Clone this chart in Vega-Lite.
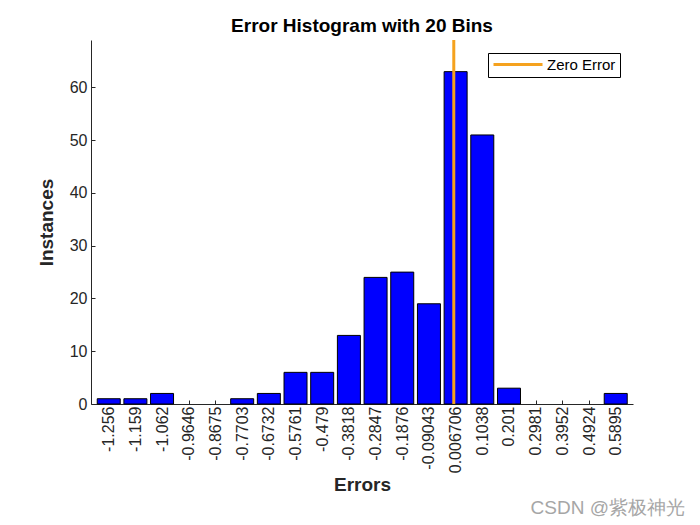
{
  "$schema": "https://vega.github.io/schema/vega-lite/v6.json",
  "background": "white",
  "padding": {"left": 37, "top": 16, "right": 5, "bottom": 5},
  "config": {
    "font": "Liberation Sans",
    "view": {"stroke": null},
    "concat": {"spacing": 0},
    "axis": {"labelOverlap": false}
  },
  "title": {
    "text": "CSDN @紫极神光",
    "orient": "bottom",
    "anchor": "end",
    "fontSize": 19,
    "fontWeight": "normal",
    "color": "#a6a6a6",
    "offset": 4,
    "dx": 52
  },
  "vconcat": [
    {
      "title": {
        "text": "Error Histogram with 20 Bins",
        "fontSize": 19,
        "fontWeight": "bold",
        "color": "black",
        "anchor": "middle",
        "offset": 3
      },
      "width": 542,
      "height": 364,
      "layer": [
        {
          "data": {
            "values": [
              {"center": -1.256, "count": 1},
              {"center": -1.159, "count": 1},
              {"center": -1.062, "count": 2},
              {"center": -0.9646, "count": 0},
              {"center": -0.8675, "count": 0},
              {"center": -0.7703, "count": 1},
              {"center": -0.6732, "count": 2},
              {"center": -0.5761, "count": 6},
              {"center": -0.479, "count": 6},
              {"center": -0.3818, "count": 13},
              {"center": -0.2847, "count": 24},
              {"center": -0.1876, "count": 25},
              {"center": -0.09043, "count": 19},
              {"center": 0.006706, "count": 63},
              {"center": 0.1038, "count": 51},
              {"center": 0.201, "count": 3},
              {"center": 0.2981, "count": 0},
              {"center": 0.3952, "count": 0},
              {"center": 0.4924, "count": 0},
              {"center": 0.5895, "count": 2}
            ]
          },
          "transform": [{"filter": "datum.count > 0"}],
          "mark": {"type": "bar", "width": 23, "fill": "#0000ff", "stroke": "black", "strokeWidth": 1},
          "encoding": {
            "x": {
              "field": "center",
              "type": "quantitative",
              "scale": {"domain": [-1.3024, 0.6342], "nice": false, "zero": false},
              "axis": {
                "title": "Errors",
                "values": [-1.256, -1.159, -1.062, -0.9646, -0.8675, -0.7703, -0.6732, -0.5761, -0.479, -0.3818, -0.2847, -0.1876, -0.09043, 0.006706, 0.1038, 0.201, 0.2981, 0.3952, 0.4924, 0.5895],
                "tickCount": 40,
                "labelExpr": "'' + datum.value",
                "labelAngle": -90,
                "labelAlign": "right",
                "labelBaseline": "middle",
                "labelFontSize": 16,
                "labelColor": "#262626",
                "labelPadding": 6,
                "labelOverlap": false,
                "labelFlush": false,
                "tickSize": -4,
                "tickColor": "#262626",
                "domainColor": "#262626",
                "grid": false,
                "titleFontSize": 19,
                "titleFontWeight": "bold",
                "titleColor": "#262626",
                "titlePadding": 3
              }
            },
            "y": {
              "field": "count",
              "type": "quantitative",
              "scale": {"domain": [0, 69], "nice": false},
              "axis": {
                "title": "Instances",
                "values": [0, 10, 20, 30, 40, 50, 60],
                "tickCount": 10,
                "labelFontSize": 16,
                "labelColor": "#262626",
                "labelPadding": 8,
                "tickSize": -4,
                "tickColor": "#262626",
                "domainColor": "#262626",
                "grid": false,
                "titleFontSize": 19,
                "titleFontWeight": "bold",
                "titleColor": "#262626",
                "titlePadding": 13
              }
            }
          }
        },
        {
          "data": {"values": [{"x": 0, "label": "Zero Error"}]},
          "mark": {"type": "rule", "strokeWidth": 3},
          "encoding": {
            "x": {"field": "x", "type": "quantitative"},
            "color": {
              "field": "label",
              "type": "nominal",
              "scale": {"range": ["#f5a21e"]},
              "legend": {
                "title": null,
                "orient": "none",
                "legendX": 397,
                "legendY": 13,
                "symbolType": "M-1,0H7.17",
                "symbolSize": 144,
                "symbolStrokeWidth": 3,
                "labelFontSize": 15,
                "labelColor": "black",
                "labelOffset": 40,
                "strokeColor": "black",
                "fillColor": "white",
                "padding": 4
              }
            }
          }
        }
      ]
    }
  ]
}
